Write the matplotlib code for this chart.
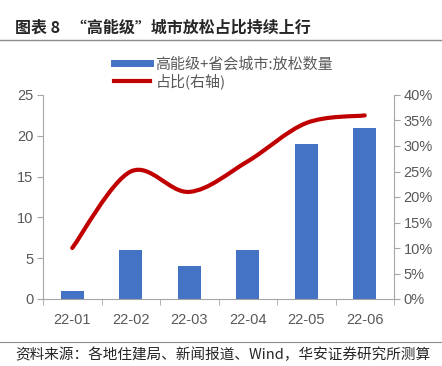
import matplotlib
matplotlib.use("Agg")
import matplotlib.pyplot as plt
from matplotlib.path import Path
from matplotlib.patches import PathPatch
from matplotlib.lines import Line2D
from matplotlib.ticker import FuncFormatter, FixedLocator
import numpy as np

plt.rcParams['font.family'] = ['Liberation Sans', 'Noto Sans CJK SC', 'DejaVu Sans']

categories = ["22-01", "22-02", "22-03", "22-04", "22-05", "22-06"]
counts = [1, 6, 4, 6, 19, 21]
share = [0.10, 0.25, 0.21, 0.27, 0.345, 0.36]

bar_color = "#4472C4"
line_color = "#C00000"
text_color = "#595959"
spine_color = "#A6A6A6"

fig = plt.figure(figsize=(4.42, 3.66), dpi=100)
ax = fig.add_axes([43/442, (366-299)/366, (394-43)/442, (299-95)/366])
x = np.arange(len(categories))
ax.bar(x, counts, width=0.4, color=bar_color, zorder=2)
ax.set_xlim(-0.5, len(categories) - 0.5)
ax.set_ylim(0, 25)
ax.set_yticks([0, 5, 10, 15, 20, 25])
ax.set_xticks(x)
ax.set_xticklabels(categories)
ax.xaxis.set_minor_locator(FixedLocator(np.arange(-0.5, len(categories), 1.0)))
ax.tick_params(axis='x', which='major', length=0, pad=10, labelsize=10.5, colors=text_color)
ax.tick_params(axis='x', which='minor', length=4, direction='out', color=spine_color)
ax.tick_params(axis='y', length=4, direction='out', color=spine_color, labelsize=10.5, labelcolor=text_color, pad=3)
for s in ['top', 'right']:
    ax.spines[s].set_visible(False)
for s in ['left', 'bottom']:
    ax.spines[s].set_color(spine_color)

ax2 = ax.twinx()
ax2.set_ylim(0, 0.4)
ax2.set_yticks(np.arange(0, 0.41, 0.05))
ax2.yaxis.set_major_formatter(FuncFormatter(lambda v, p: f"{v*100:.0f}%"))
ax2.tick_params(axis='y', length=4, direction='out', color=spine_color, labelsize=10.5, labelcolor=text_color, pad=3)
for s in ['top', 'left', 'bottom']:
    ax2.spines[s].set_visible(False)
ax2.spines['right'].set_color(spine_color)

# Smooth line (Excel-style Bezier through the data points)
pts = np.column_stack([x, share]).astype(float)
verts = [tuple(pts[0])]
codes = [Path.MOVETO]
n = len(pts)
for i in range(n - 1):
    p0 = pts[i - 1] if i > 0 else pts[i]
    p1 = pts[i]
    p2 = pts[i + 1]
    p3 = pts[i + 2] if i + 2 < n else pts[i + 1]
    c1 = p1 + (p2 - p0) / 6
    c2 = p2 - (p3 - p1) / 6
    verts += [tuple(c1), tuple(c2), tuple(p2)]
    codes += [Path.CURVE4] * 3
patch = PathPatch(Path(verts, codes), facecolor='none', edgecolor=line_color, lw=3, capstyle='round', zorder=3)
ax2.add_patch(patch)

# Legend
handles = [Line2D([0], [0], color=bar_color, lw=5), Line2D([0], [0], color=line_color, lw=3)]
labels = ["高能级+省会城市:放松数量", "占比(右轴)"]
leg = fig.legend(handles, labels, loc='upper left', bbox_to_anchor=(114/442, 1 - 57/366),
                 frameon=False, handlelength=2.4, handletextpad=0.35,
                 labelspacing=0.15, borderaxespad=0, borderpad=0,
                 prop={'family': ['Noto Sans CJK SC', 'DejaVu Sans'], 'size': 10.8})
for t in leg.get_texts():
    t.set_color(text_color)

# Title and source
fig.text(15/442, 1 - 28/366, "图表 8   “高能级”城市放松占比持续上行", fontsize=11.5, fontweight='bold',
         family=['Noto Sans CJK SC', 'DejaVu Sans'], va='center', ha='left', color='#262626')
fig.add_artist(Line2D([0, 1], [1 - 40/366, 1 - 40/366], color='#8C8C8C', lw=1, transform=fig.transFigure))
fig.add_artist(Line2D([0, 1], [1 - 342/366, 1 - 342/366], color='#8C8C8C', lw=0.8, transform=fig.transFigure))
fig.text(15/442, 1 - 355/366, "资料来源：各地住建局、新闻报道、Wind，华安证券研究所测算", fontsize=10.5,
         family=['Noto Sans CJK SC', 'DejaVu Sans'], va='center', ha='left', color='#262626')

fig.savefig("out.png", dpi=100)
